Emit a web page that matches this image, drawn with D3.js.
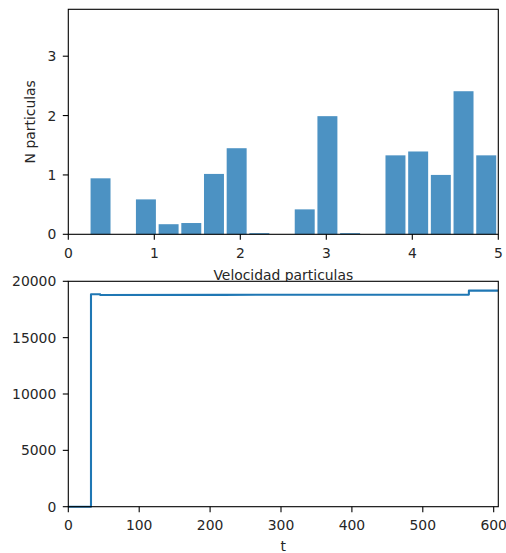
<!DOCTYPE html>
<html><head><meta charset="utf-8">
<script src="https://cdn.jsdelivr.net/npm/d3@7"></script>
<style>
html,body{margin:0;padding:0;background:#fff;}
text{font-family:"DejaVu Sans",sans-serif;}
</style></head>
<body><svg id="c" width="506" height="553"></svg>
<script>
// Histogram (top): bin edges & heights
const binStart = 0.243;
const binWidth = 0.2638;
const binHeights = [0.943, 0, 0.588, 0.17, 0.19, 1.017, 1.45, 0.02, 0, 0.42, 1.99, 0.02, 0, 1.33, 1.395, 1.0, 2.41, 1.33];
const topXTicks = [0, 1, 2, 3, 4, 5];
const topYTicks = [0, 1, 2, 3];
// Step line (bottom)
const tValues = [0, 32, 32, 45, 45, 218, 360, 565, 565, 606];
const nValues = [0, 0, 18850, 18850, 18785, 18795, 18810, 18820, 19170, 19170];
const botXTicks = [0, 100, 200, 300, 400, 500, 600];
const botYTicks = [0, 5000, 10000, 15000, 20000];

const svg = d3.select("#c");
const FS = 13.9;
const L = 68.3, R = 498.3;
const T1 = 9.3, B1 = 234.3;
const T2 = 281.3, B2 = 506.7;
const tick = 5.5;

function axesFrame(top, bottom){
  svg.append("rect").attr("x", L).attr("y", top).attr("width", R-L).attr("height", bottom-top)
    .attr("fill", "#fff");
}
function frame(top, bottom){
  svg.append("rect").attr("x", L).attr("y", top).attr("width", R-L).attr("height", bottom-top)
    .attr("fill", "none").attr("stroke", "#000").attr("stroke-width", 1.1);
}
function xTicks(scale, ticks, bottom){
  const g = svg.append("g");
  ticks.forEach(v => {
    const x = scale(v);
    g.append("line").attr("x1", x).attr("x2", x).attr("y1", bottom).attr("y2", bottom+tick)
      .attr("stroke", "#000").attr("stroke-width", 1.1);
    g.append("text").attr("x", x).attr("y", bottom+23.3).attr("text-anchor", "middle")
      .attr("font-size", FS).attr("fill", "#262626").text(v);
  });
}
function yTicks(scale, ticks){
  const g = svg.append("g");
  ticks.forEach(v => {
    const y = scale(v);
    g.append("line").attr("x1", L-tick).attr("x2", L).attr("y1", y).attr("y2", y)
      .attr("stroke", "#000").attr("stroke-width", 1.1);
    g.append("text").attr("x", L-tick-6.5).attr("y", y).attr("dy", "0.36em").attr("text-anchor", "end")
      .attr("font-size", FS).attr("fill", "#262626").text(v);
  });
}

// ---- Top chart ----
axesFrame(T1, B1);
const x1 = d3.scaleLinear().domain([0, 5]).range([L, R]);
const y1 = d3.scaleLinear().domain([0, 3.79]).range([B1, T1]);
const rw = 0.88;
svg.append("g").selectAll("rect").data(binHeights).join("rect")
  .attr("x", (d,i) => x1(binStart + i*binWidth + binWidth*(1-rw)/2))
  .attr("width", x1(binWidth*rw) - x1(0))
  .attr("y", d => y1(d))
  .attr("height", d => y1(0) - y1(d))
  .attr("fill", "#1f77b4").attr("fill-opacity", 0.8);
frame(T1, B1);
xTicks(x1, topXTicks, B1);
yTicks(y1, topYTicks);
svg.append("text").attr("transform", `translate(35,${(T1+B1)/2}) rotate(-90)`)
  .attr("text-anchor", "middle").attr("font-size", FS).attr("fill", "#262626").text("N particulas");
svg.append("text").attr("x", (L+R)/2).attr("y", 280.3).attr("text-anchor", "middle")
  .attr("font-size", FS).attr("fill", "#262626").text("Velocidad particulas");

// ---- Bottom chart ----
axesFrame(T2, B2);
const x2 = d3.scaleLinear().domain([0, 606.5]).range([L, R]);
const y2 = d3.scaleLinear().domain([0, 20000]).range([B2, T2]);
const pts = tValues.map((t,i) => [t, nValues[i]]);
svg.append("path").datum(pts)
  .attr("d", d3.line().x(d => x2(d[0])).y(d => y2(d[1])))
  .attr("fill", "none").attr("stroke", "#1f77b4").attr("stroke-width", 2.08)
  .attr("stroke-linejoin", "round");
frame(T2, B2);
xTicks(x2, botXTicks, B2);
yTicks(y2, botYTicks);
svg.append("text").attr("x", (L+R)/2).attr("y", 551).attr("text-anchor", "middle")
  .attr("font-size", FS).attr("fill", "#262626").text("t");
</script>
</body></html>
